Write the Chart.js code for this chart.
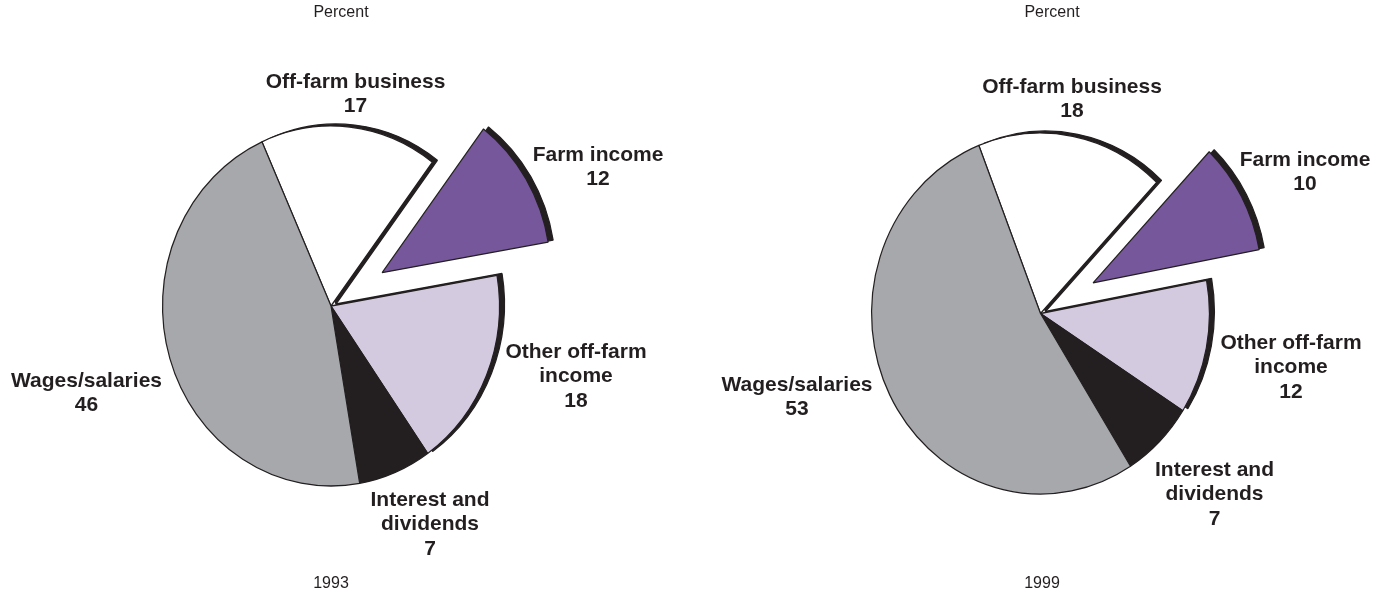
<!DOCTYPE html>
<html><head><meta charset="utf-8">
<script src="https://cdn.jsdelivr.net/npm/chart.js@4.4.1/dist/chart.umd.min.js"></script>
<style>
html,body{margin:0;padding:0;background:#fff;overflow:hidden;}
#wrap{position:relative;width:1374px;height:598px;background:#fff;}
canvas{position:absolute;left:0;top:0;}
</style></head><body>
<div id="wrap"><canvas id="c1" width="1374" height="598"></canvas><canvas id="c2" width="1374" height="598"></canvas></div>
<script>
// ---- data ----
const categories = ["Off-farm business", "Farm income", "Other off-farm income", "Interest and dividends", "Wages/salaries"];
const labelLines = [["Off-farm business"], ["Farm income"], ["Other off-farm", "income"], ["Interest and", "dividends"], ["Wages/salaries"]];
const values1993 = [17, 12, 18, 7, 46];
const values1999 = [18, 10, 12, 7, 53];
const years = ["1993", "1999"];
const unitLabel = "Percent";

// ---- styles ----
const INK = '#231f20';
const sliceColors = ['#ffffff', '#76579b', '#d3cae0', '#231f20', '#a6a8ab'];

const piePlugin = {
  id: 'pieStyle',
  beforeDatasetDraw(chart, args, opts) {
    const ctx = chart.ctx;
    const arcs = args.meta.data;
    if (!arcs.length) return;
    const cx = arcs[0].x, cy = arcs[0].y;
    ctx.save();
    ctx.translate(cx, cy); ctx.scale(opts.scaleX, 1); ctx.translate(-cx, -cy);
    const shift = (arc, i) => {
      if (i === opts.explodeIndex) {
        const mid = (arc.startAngle + arc.endAngle) / 2;
        ctx.translate(Math.cos(mid) * opts.explode, Math.sin(mid) * opts.explode);
      }
    };
    arcs.forEach((arc, i) => {
      if (!opts.shadow.includes(i)) return;
      ctx.save();
      shift(arc, i);
      ctx.translate(opts.shadowX / opts.scaleX, opts.shadowY);
      const o = arc.options;
      arc.options = Object.assign({}, o, {backgroundColor: INK, borderColor: INK});
      arc.draw(ctx);
      arc.options = o;
      ctx.restore();
    });
    arcs.forEach((arc, i) => { ctx.save(); shift(arc, i); arc.draw(ctx); ctx.restore(); });
    ctx.restore();
    return false;
  },
  afterDraw(chart, args, opts) {
    const ctx = chart.ctx;
    const vals = chart.data.datasets[0].data;
    ctx.save();
    ctx.fillStyle = INK;
    ctx.textAlign = 'center';
    ctx.textBaseline = 'middle';
    ctx.font = 'bold 21px "Liberation Sans", Arial, sans-serif';
    opts.labelPos.forEach((p, i) => {
      const lines = labelLines[i].concat([String(vals[i])]);
      lines.forEach((t, k) => ctx.fillText(t, p[0], p[1] + k * 24.5));
    });
    ctx.font = '16px "Liberation Sans", Arial, sans-serif';
    ctx.fillText(unitLabel, opts.unitPos[0], opts.unitPos[1]);
    ctx.fillText(opts.year, opts.yearPos[0], opts.yearPos[1]);
    ctx.restore();
  }
};

function makeChart(id, values, year, cfg) {
  return new Chart(document.getElementById(id), {
    type: 'pie',
    data: {
      labels: categories,
      datasets: [{
        data: values,
        backgroundColor: sliceColors,
        borderColor: INK,
        borderWidth: 1.3
      }]
    },
    options: {
      responsive: false,
      animation: false,
      radius: cfg.radius,
      rotation: cfg.rotation,
      layout: {padding: cfg.padding},
      events: [],
      plugins: {
        legend: {display: false},
        tooltip: {enabled: false},
        pieStyle: {
          scaleX: 0.936,
          explodeIndex: 1,
          explode: 64,
          shadow: [0, 1, 2],
          shadowX: 5,
          shadowY: -2,
          labelPos: cfg.labelPos,
          unitPos: cfg.unitPos,
          yearPos: cfg.yearPos,
          year: year
        }
      }
    },
    plugins: [piePlugin]
  });
}

makeChart('c1', values1993, years[0], {
  radius: 180,
  rotation: -24.2,
  padding: {left: 0, right: 712, top: 14, bottom: 0},
  labelPos: [[355.5, 82], [598, 155], [576, 352], [430, 500], [86.5, 381]],
  unitPos: [341, 13],
  yearPos: [331, 584]
});
makeChart('c2', values1999, years[1], {
  radius: 180.5,
  rotation: -21.4,
  padding: {left: 707, right: 0, top: 29, bottom: 0},
  labelPos: [[1072, 87], [1305, 160], [1291, 343], [1214.5, 470], [797, 385]],
  unitPos: [1052, 13],
  yearPos: [1042, 584]
});
</script>
</body></html>
